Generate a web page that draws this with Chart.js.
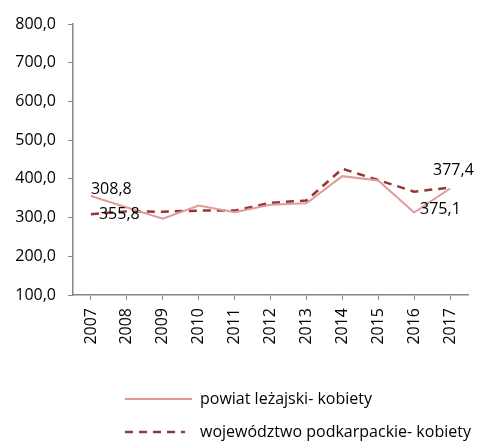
<!DOCTYPE html>
<html>
<head>
<meta charset="utf-8">
<script src="https://cdn.jsdelivr.net/npm/chart.js@4"></script>
<style>
    html, body { margin: 0; padding: 0; background: #fff; }
    #wrap { width: 480px; height: 441px; }
</style>
</head>
<body>
<div id="wrap"><canvas id="myChart1" width="480" height="441"></canvas></div>
<script>
var years = ['2007', '2008', '2009', '2010', '2011', '2012', '2013', '2014', '2015', '2016', '2017'];
var powiat = [355.8, 326, 297, 331, 314, 333, 337, 407, 396, 313, 375.1];
var wojewodztwo = [308.8, 316, 315, 318, 318, 338, 344, 426, 397, 367, 377.4];
var seriesNames = ['powiat leżajski- kobiety', 'województwo podkarpackie- kobiety'];

var FONT = '"Open Sans", "DejaVu Sans", sans-serif';
var AXIS = '#868686';

function fmt(v) {
    return v.toFixed(1).replace('.', ',');
}

// value labels: text from one series, placed next to a point of the given series
var valueLabels = [
    { ds: 1, i: 0, at: 0, dx: 0, dy: -7 },
    { ds: 0, i: 0, at: 1, dx: 8, dy: 0 },
    { ds: 1, i: 10, at: 1, dx: -17, dy: -17 },
    { ds: 0, i: 10, at: 0, dx: -30, dy: 21 }
];

var labelsPlugin = {
    id: 'valueLabels',
    afterDatasetsDraw: function (chart) {
        var c = chart.ctx;
        c.save();
        c.font = '16px ' + FONT;
        c.fillStyle = '#000';
        c.textAlign = 'left';
        c.textBaseline = 'middle';
        valueLabels.forEach(function (l) {
            var pt = chart.getDatasetMeta(l.at).data[l.i];
            var v = chart.data.datasets[l.ds].data[l.i];
            c.fillText(fmt(v), pt.x + l.dx, pt.y + l.dy);
        });
        c.restore();
    }
};

// legend rows stacked and left aligned under the plot
var legendPlugin = {
    id: 'sideLegend',
    afterDraw: function (chart) {
        var c = chart.ctx;
        var rows = [399, 432];
        c.save();
        c.font = '16px ' + FONT;
        c.textBaseline = 'middle';
        chart.data.datasets.forEach(function (ds, k) {
            var y = rows[k];
            c.beginPath();
            c.strokeStyle = ds.borderColor;
            c.lineWidth = ds.borderWidth;
            c.setLineDash(ds.borderDash || []);
            c.moveTo(125, y);
            c.lineTo(k === 0 ? 192 : 185, y);
            c.stroke();
            c.setLineDash([]);
            c.fillStyle = '#000';
            c.fillText(ds.label, 200, y);
        });
        c.restore();
    }
};

var ctx = document.getElementById('myChart1');
var myChart = new Chart(ctx, {
    type: 'line',
    data: {
        labels: years,
        datasets: [
            {
                label: seriesNames[0],
                data: powiat,
                borderColor: '#E39A9A',
                borderWidth: 2,
                pointRadius: 0,
                tension: 0,
                fill: false
            },
            {
                label: seriesNames[1],
                data: wojewodztwo,
                borderColor: '#943634',
                borderWidth: 2.5,
                borderDash: [8, 6],
                pointRadius: 0,
                tension: 0,
                fill: false
            }
        ]
    },
    plugins: [labelsPlugin, legendPlugin],
    options: {
        responsive: false,
        animation: false,
        layout: { padding: { top: 24, right: 12, bottom: 86, left: 0 } },
        plugins: {
            legend: { display: false },
            tooltip: { enabled: false }
        },
        scales: {
            x: {
                offset: true,
                grid: {
                    offset: false,
                    drawOnChartArea: false,
                    drawTicks: true,
                    tickLength: 5,
                    color: AXIS
                },
                border: { color: AXIS, width: 1.5 },
                ticks: {
                    minRotation: 90,
                    maxRotation: 90,
                    padding: 8,
                    color: '#000',
                    font: { family: FONT, size: 16 }
                },
                afterFit: function (scale) { scale.height = 60; }
            },
            y: {
                min: 100,
                max: 800,
                grid: {
                    drawOnChartArea: false,
                    drawTicks: true,
                    tickLength: 5,
                    color: AXIS
                },
                border: { color: AXIS, width: 1.5 },
                ticks: {
                    stepSize: 100,
                    padding: 12,
                    color: '#000',
                    font: { family: FONT, size: 16 },
                    callback: function (v) { return fmt(v); }
                },
                afterFit: function (scale) { scale.width = 73; }
            }
        }
    }
});
</script>
</body>
</html>
